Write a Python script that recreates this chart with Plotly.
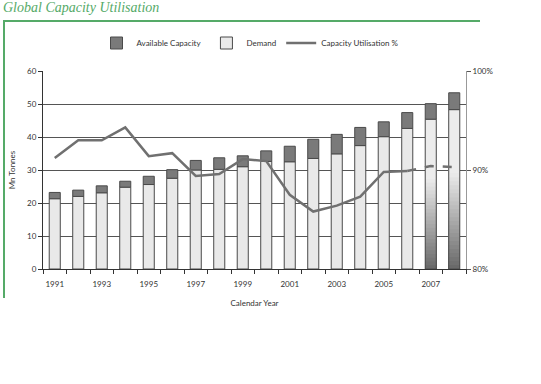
import plotly.graph_objects as go

years = list(range(1991, 2009))
capacity = [23.2, 23.9, 25.2, 26.6, 28.1, 30.1, 32.9, 33.7, 34.3, 35.8, 37.2, 39.3,
            40.8, 42.9, 44.6, 47.4, 50.1, 53.4]
demand = [21.3, 22.0, 23.1, 24.8, 25.6, 27.5, 30.0, 30.2, 31.0, 32.6, 32.5, 33.5,
          34.9, 37.4, 40.1, 42.6, 45.4, 48.3]
utilisation = [91.2, 93.0, 93.0, 94.3, 91.4, 91.7, 89.4, 89.6, 91.1, 90.9, 87.5, 85.8,
               86.4, 87.3, 89.8, 89.9, 90.4, 90.3]
gradient_years = [2007, 2008]
tick_years = [1991, 1993, 1995, 1997, 1999, 2001, 2003, 2005, 2007]

W, H = 541, 384
L, R, T, B = 43, 75, 71, 115
pw, ph = W - L - R, H - T - B

def px_x(p):
    return (p - L) / pw

def px_y(p):
    return (H - B - p) / ph

LINE = "#4a4a4a"
DARK = "#7a7a7a"
LIGHT = "#e9e9e9"
BW = 0.47

fig = go.Figure()

plain_d = [d if y not in gradient_years else None for y, d in zip(years, demand)]
fig.add_trace(go.Bar(x=years, y=plain_d, base=0, width=BW, name="Demand",
                     marker=dict(color=LIGHT, line=dict(color=LINE, width=1)),
                     showlegend=False))

# gradient fill for the last bars: overlapping layers, tallest (lightest) first
N = 40
def mix(t):
    a, b = (0x68, 0x68, 0x68), (0xec, 0xec, 0xec)
    s = min(1.0, t / 0.6)
    return "rgb(%d,%d,%d)" % tuple(int(a[i] + (b[i] - a[i]) * s) for i in range(3))

gx = [y for y in years if y in gradient_years]
gd = [d for y, d in zip(years, demand) if y in gradient_years]
for k in range(N, 0, -1):
    fig.add_trace(go.Bar(x=gx, y=[d * k / N for d in gd], base=0,
                         width=BW, marker=dict(color=mix((k - 0.5) / N), line=dict(width=0)),
                         showlegend=False, hoverinfo="skip"))
fig.add_trace(go.Bar(x=gx, y=gd, base=0, width=BW,
                     marker=dict(color="rgba(0,0,0,0)", line=dict(color=LINE, width=1)),
                     showlegend=False, hoverinfo="skip"))

avail = [c - d for c, d in zip(capacity, demand)]
fig.add_trace(go.Bar(x=years, y=avail, base=demand, width=BW, name="Available Capacity",
                     marker=dict(color=DARK, line=dict(color=LINE, width=1)), legendrank=1))

fig.add_trace(go.Bar(x=[None], y=[None], name="Demand",
                     marker=dict(color=LIGHT, line=dict(color=LINE, width=1)), legendrank=2))

split = years.index(2006)
fig.add_trace(go.Scatter(x=years[:split + 1], y=utilisation[:split + 1], yaxis="y2",
                         mode="lines", name="Capacity Utilisation %", legendrank=3,
                         line=dict(color="#707070", width=2.5)))
fig.add_trace(go.Scatter(x=years[split:], y=utilisation[split:], yaxis="y2",
                         mode="lines", showlegend=False,
                         line=dict(color="#707070", width=2.5, dash="dash")))

GREEN = "#55aa68"
fig.update_layout(
    width=W, height=H, barmode="overlay",
    margin=dict(l=L, r=R, t=T, b=B),
    paper_bgcolor="white", plot_bgcolor="white",
    font=dict(family="Lato, sans-serif", size=8, color="#333"),
    title=dict(text="Global Capacity Utilisation", x=3 / W, xref="container", xanchor="left",
               y=1 - 7 / H, yref="container", yanchor="middle",
               font=dict(family="Liberation Serif, serif", size=14, color=GREEN, style="italic")),
    showlegend=True,
    legend=dict(orientation="h", x=px_x(250), xanchor="center", y=px_y(43), yanchor="middle",
                font=dict(size=8, color="#333"), bgcolor="rgba(0,0,0,0)", itemwidth=30,
                tracegroupgap=0),
    xaxis=dict(range=[1990.5, 2008.5], tickvals=tick_years, ticktext=[str(t) for t in tick_years],
               ticks="", showgrid=False, zeroline=False, showline=True, linecolor="#333",
               linewidth=1, ticklabelstandoff=7,
               minor=dict(tickvals=[y - 0.5 for y in years] + [2008.5], ticks="outside",
                          ticklen=4, tickcolor="#333", showgrid=False),
               title=dict(text="Calendar Year", standoff=12, font=dict(size=8))),
    yaxis=dict(range=[0, 60], dtick=10, ticks="outside", ticklen=4, tickcolor="#333",
               showgrid=True, gridcolor="#555", gridwidth=1, zeroline=False,
               showline=True, linecolor="#333", linewidth=1,
               title=dict(text="Mn Tonnes", standoff=10, font=dict(size=8))),
    yaxis2=dict(range=[80, 100], overlaying="y", side="right", tickvals=[80, 90, 100],
                ticktext=["80%", "90%", "100%"], ticks="outside", ticklen=4, tickcolor="#555",
                showgrid=False, zeroline=False, showline=True, linecolor="#999", linewidth=1),
    shapes=[
        dict(type="line", xref="paper", yref="paper", x0=px_x(3), x1=px_x(480),
             y0=px_y(21), y1=px_y(21), line=dict(color=GREEN, width=2)),
        dict(type="line", xref="paper", yref="paper", x0=px_x(4), x1=px_x(4),
             y0=px_y(21), y1=px_y(298), line=dict(color=GREEN, width=2)),
    ],
)

fig.write_html("out.html", config={"displayModeBar": False},
               post_script="document.body.style.margin='0';document.body.style.padding='0';")
